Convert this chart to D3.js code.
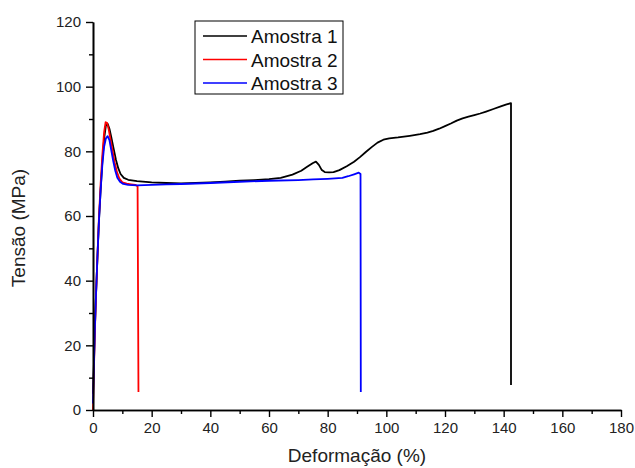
<!DOCTYPE html>
<html>
<head>
<meta charset="utf-8">
<script src="https://cdn.jsdelivr.net/npm/d3@7"></script>
<style>
  html, body { margin: 0; padding: 0; background: #fff; }
  svg { display: block; }
  text { font-family: "Liberation Sans", Arial, sans-serif; }
</style>
</head>
<body>
<svg id="chart" width="635" height="468"></svg>
<script>
// Tensile curves: strain (%) vs stress (MPa)
const seriesNames = ["Amostra 1", "Amostra 2", "Amostra 3"];
const seriesColors = ["#000000", "#ff0000", "#0000ff"];

const strain1 = [0, 0.3, 0.6, 1.0, 1.5, 2.0, 2.6, 3.2, 3.8, 4.4, 5.0, 5.6, 6.2, 7.0, 7.8, 8.6, 9.4, 10.5, 12, 15, 20, 25, 30, 35, 40, 45, 50, 55, 60, 64, 68, 71, 73, 75, 76, 77, 78, 79, 80.5, 82, 84, 86.5, 89, 91, 93, 95, 97, 99, 101, 104, 108, 111.5, 114, 116, 118, 120, 122, 124, 126, 128, 130, 132, 134, 136.5, 139, 141, 142.5, 142.5];
const stress1 = [5, 14, 24, 35, 47, 58, 68, 77, 84, 88, 88.5, 87, 84.5, 81, 77.5, 74.8, 73, 71.8, 71.2, 70.8, 70.4, 70.2, 70.1, 70.2, 70.4, 70.6, 70.9, 71.1, 71.4, 71.8, 72.8, 74, 75.2, 76.4, 76.8, 75.8, 74.2, 73.6, 73.5, 73.6, 74.2, 75.4, 76.8, 78.2, 79.8, 81.3, 82.7, 83.6, 84, 84.3, 84.8, 85.3, 85.8, 86.3, 87, 87.8, 88.6, 89.5, 90.2, 90.7, 91.2, 91.7, 92.3, 93.1, 93.9, 94.5, 94.9, 7.7];

const strain2 = [0, 0.3, 0.6, 1.0, 1.5, 2.0, 2.6, 3.2, 3.8, 4.3, 4.8, 5.3, 5.9, 6.6, 7.4, 8.2, 9.0, 10, 11.5, 13, 14.5, 15.2, 15.5];
const stress2 = [0, 12, 23, 35, 47, 59, 70, 79, 86, 89, 88.8, 87, 84, 80.5, 76.5, 73.5, 71.6, 70.4, 70, 69.8, 69.6, 69.2, 5.6];

const strain3 = [0, 0.3, 0.6, 1.0, 1.5, 2.0, 2.6, 3.2, 3.8, 4.4, 5.0, 5.6, 6.2, 6.9, 7.6, 8.3, 9.2, 10.3, 12, 15, 20, 25, 30, 40, 50, 60, 70, 75, 80, 85, 87, 89, 90.6, 91.2, 91.3];
const stress3 = [2, 13, 24, 35, 47, 58, 68, 76, 81.5, 84, 84.7, 83.5, 80.5, 77, 74, 71.8, 70.6, 69.9, 69.6, 69.5, 69.6, 69.8, 69.9, 70.2, 70.6, 70.9, 71.1, 71.3, 71.5, 71.8, 72.3, 72.9, 73.4, 73, 5.6];

const xMajorTicks = [0, 20, 40, 60, 80, 100, 120, 140, 160, 180];
const yMajorTicks = [0, 20, 40, 60, 80, 100, 120];
const xTitle = "Deformação (%)";
const yTitle = "Tensão (MPa)";

const svg = d3.select("#chart");
const x = d3.scaleLinear().domain([0, 180]).range([93, 621]);
const y = d3.scaleLinear().domain([0, 120]).range([410, 22]);

const series = [
  { xs: strain1, ys: stress1 },
  { xs: strain2, ys: stress2 },
  { xs: strain3, ys: stress3 }
].map((s, i) => ({
  name: seriesNames[i],
  color: seriesColors[i],
  points: s.xs.map((v, j) => [v, s.ys[j]])
}));

const line = d3.line().x(d => x(d[0])).y(d => y(d[1]));

// curves
svg.append("g").selectAll("path")
  .data(series)
  .join("path")
  .attr("d", d => line(d.points))
  .attr("fill", "none")
  .attr("stroke", d => d.color)
  .attr("stroke-width", 1.8)
  .attr("stroke-linejoin", "round");

// axes with major (labelled) and minor ticks
function styleAxis(g) {
  g.selectAll(".domain").attr("stroke", "#000").attr("stroke-width", 1.6);
  g.selectAll(".tick line").attr("stroke", "#000").attr("stroke-width", 1.4);
  g.selectAll(".tick text").attr("fill", "#222").style("font-size", "15px")
    .style("font-family", '"Liberation Sans", Arial, sans-serif');
}

const xMinor = d3.range(10, 180, 20);
const yMinor = d3.range(10, 120, 20);

svg.append("g").attr("transform", "translate(0,410)")
  .call(d3.axisBottom(x).tickValues(xMinor).tickSize(4).tickFormat("").tickSizeOuter(0))
  .call(styleAxis);
svg.append("g").attr("transform", "translate(0,410)")
  .call(d3.axisBottom(x).tickValues(xMajorTicks).tickSize(7).tickPadding(5).tickFormat(d3.format("d")).tickSizeOuter(0))
  .call(styleAxis);

svg.append("g").attr("transform", "translate(93,0)")
  .call(d3.axisLeft(y).tickValues(yMinor).tickSize(4).tickFormat("").tickSizeOuter(0))
  .call(styleAxis);
svg.append("g").attr("transform", "translate(93,0)")
  .call(d3.axisLeft(y).tickValues(yMajorTicks).tickSize(7).tickPadding(5).tickFormat(d3.format("d")).tickSizeOuter(0))
  .call(styleAxis);

// axis titles
svg.append("text")
  .attr("x", 357).attr("y", 462)
  .attr("text-anchor", "middle")
  .style("font-size", "19px").attr("fill", "#222")
  .text(xTitle);

svg.append("text")
  .attr("transform", "translate(25,228) rotate(-90)")
  .attr("text-anchor", "middle")
  .style("font-size", "19px").attr("fill", "#222")
  .text(yTitle);

// legend
const legend = svg.append("g");
legend.append("rect")
  .attr("x", 195).attr("y", 21).attr("width", 148).attr("height", 73)
  .attr("fill", "#fff").attr("stroke", "#000").attr("stroke-width", 1);
const items = legend.selectAll("g.item").data(series).join("g")
  .attr("transform", (d, i) => `translate(0,${36 + i * 23.5})`);
items.append("line")
  .attr("x1", 203).attr("x2", 247).attr("y1", 0).attr("y2", 0)
  .attr("stroke", d => d.color).attr("stroke-width", 1.6);
items.append("text")
  .attr("x", 251).attr("y", 7)
  .style("font-size", "19px").attr("fill", "#111")
  .text(d => d.name);
</script>
</body>
</html>
